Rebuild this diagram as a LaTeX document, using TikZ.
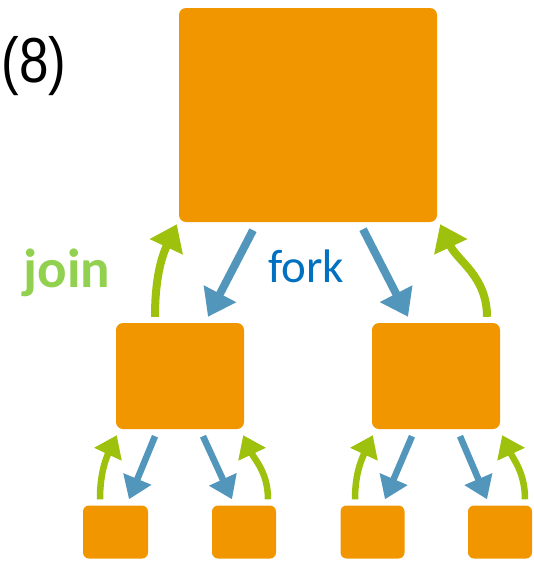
\documentclass[tikz,border=0pt]{standalone}
\usepackage{fontspec}
\setmainfont{Liberation Sans}
\newfontfamily\carlito{Carlito}
\usetikzlibrary{arrows.meta,calc}
\definecolor{boxorange}{HTML}{F29600}
\definecolor{forkblue}{HTML}{5396BB}
\definecolor{joingreen}{HTML}{9DC10C}
\definecolor{jointext}{HTML}{92D050}
\definecolor{forktext}{HTML}{0070C0}
\tikzset{
  box/.style={fill=boxorange, draw=none, rounded corners=7pt, inner sep=0pt},
  bigfork/.style={draw=forkblue, line width=8pt, -{Triangle[width=35pt,length=26pt]}},
  bigjoin/.style={draw=joingreen, line width=8pt, -{Triangle[width=35pt,length=25pt]}},
  smallfork/.style={draw=forkblue, line width=6.5pt, -{Triangle[width=29pt,length=22pt]}},
  smalljoin/.style={draw=joingreen, line width=6.5pt, -{Triangle[width=29pt,length=21pt]}},
}
\begin{document}
\begin{tikzpicture}[x=1pt,y=-1pt]
\useasboundingbox (0,0) rectangle (534,562);
% boxes
\node[box, minimum width=258pt, minimum height=214pt] (A) at (308,115) {};
\node[box, minimum width=128pt, minimum height=106pt] (B) at (180,376) {};
\node[box, minimum width=128pt, minimum height=106pt] (C) at (436,376) {};
\node[box, rounded corners=6pt, minimum width=65pt, minimum height=53pt] (D1) at (115.5,532) {};
\node[box, rounded corners=6pt, minimum width=64pt, minimum height=53pt] (D2) at (244,532) {};
\node[box, rounded corners=6pt, minimum width=64pt, minimum height=53pt] (D3) at (372.5,532) {};
\node[box, rounded corners=6pt, minimum width=64pt, minimum height=53pt] (D4) at (500,532) {};
% texts
\node[yscale=1.2, font=\fontsize{53}{58}\selectfont, inner sep=0pt] (lbl) at (34,66) {(8)};
\node[anchor=base, font=\carlito\bfseries\fontsize{55}{60}\selectfont, text=jointext, inner sep=0pt] (join) at (67,287) {join};
\node[anchor=base, font=\carlito\fontsize{47}{50}\selectfont, text=forktext, inner sep=0pt] (fork) at (306,282) {fork};
% level 1 arrows
\draw[bigfork] ($(A.south)+(-55,8)$) -- ($(B.north)+(28,-6)$);
\draw[bigfork] ($(A.south)+(55,7)$) -- ($(C.north)+(-28,-6)$);
\draw[bigjoin] ($(B.north)+(-25,-6)$) to[out=90, in=-115] ($(A.south west)+(-2,2)$);
\draw[bigjoin] ($(C.north)+(51,-6)$) to[out=90, in=-65] ($(A.south east)+(3,2)$);
% level 2 arrows, left
\draw[smallfork] ($(B.south)+(-25,7)$) -- ($(D1.north)+(13.5,-6)$);
\draw[smallfork] ($(B.south)+(23,7)$) -- ($(D2.north)+(-12,-6)$);
\draw[smalljoin] ($(D1.north)+(-15.5,-6)$) to[out=90, in=-115] ($(B.south west)+(1,6)$);
\draw[smalljoin] ($(D2.north)+(24,-6)$) to[out=90, in=-65] ($(B.south east)+(-1,6)$);
% level 2 arrows, right
\draw[smallfork] ($(C.south)+(-24,7)$) -- ($(D3.north)+(12.5,-6)$);
\draw[smallfork] ($(C.south)+(24,7)$) -- ($(D4.north)+(-13,-6)$);
\draw[smalljoin] ($(D3.north)+(-17.5,-6)$) to[out=90, in=-115] ($(C.south west)+(1,6)$);
\draw[smalljoin] ($(D4.north)+(25,-6)$) to[out=90, in=-65] ($(C.south east)+(2,6)$);
\end{tikzpicture}
\end{document}
